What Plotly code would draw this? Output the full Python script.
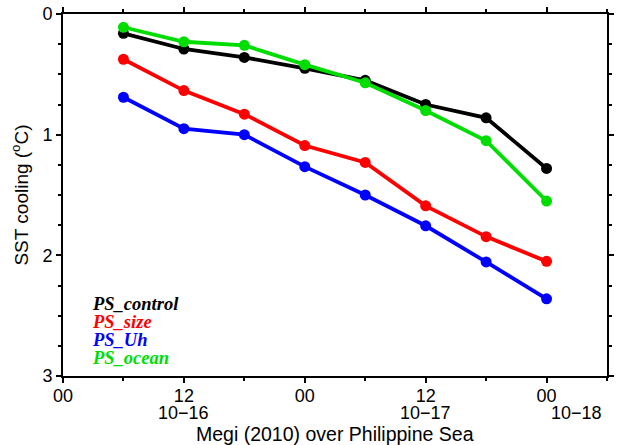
import plotly.graph_objects as go

# Forecast hour since 00 UTC 16 Oct 2010
hours = [6, 12, 18, 24, 30, 36, 42, 48]

# SST cooling (deg C) for each experiment
ps_control = [0.16, 0.29, 0.36, 0.45, 0.55, 0.75, 0.86, 1.28]
ps_size = [0.375, 0.635, 0.83, 1.09, 1.23, 1.59, 1.845, 2.05]
ps_uh = [0.69, 0.95, 1.00, 1.265, 1.50, 1.755, 2.055, 2.36]
ps_ocean = [0.11, 0.23, 0.26, 0.42, 0.57, 0.80, 1.05, 1.55]

series = [
    ("PS_control", ps_control, "#000000"),
    ("PS_size", ps_size, "#ff0000"),
    ("PS_Uh", ps_uh, "#0000ff"),
    ("PS_ocean", ps_ocean, "#00dd00"),
]

# Axis labels
hour_ticks = [0, 12, 24, 36, 48]
hour_labels = ["00", "12", "00", "12", "00"]
day_positions = [12, 36, 51]
day_labels = ["10\u221216", "10\u221217", "10\u221218"]

FONT = "Liberation Sans, Arial, Helvetica, sans-serif"

fig = go.Figure()
for name, vals, color in series:
    fig.add_trace(go.Scatter(
        x=hours, y=vals, name=name, mode="lines+markers",
        line=dict(color=color, width=3.8),
        marker=dict(color=color, size=11),
        showlegend=False,
    ))

# Text legend in the lower-left corner
for i, (name, vals, color) in enumerate(series):
    fig.add_annotation(
        x=0.05, y=0.2 - i * 0.0505, xref="paper", yref="paper",
        xanchor="left", yanchor="middle", showarrow=False,
        text=f"<b><i>{name}</i></b>",
        font=dict(family="Liberation Serif, Times New Roman, serif", size=18.5, color=color),
    )

# Second row of date labels below the hour labels
for pos, lab in zip(day_positions, day_labels):
    fig.add_annotation(
        x=pos, y=0, xref="x", yref="paper", yshift=-37,
        xanchor="center", yanchor="middle", showarrow=False,
        text=lab, font=dict(family=FONT, size=18, color="#000"),
    )

fig.add_annotation(
    x=0.5, y=0, xref="paper", yref="paper", yshift=-58,
    xanchor="center", yanchor="middle", showarrow=False,
    text="Megi (2010) over Philippine Sea",
    font=dict(family=FONT, size=19.5, color="#000"),
)

fig.update_layout(
    width=617, height=445,
    margin=dict(l=63, r=10, t=14, b=69),
    paper_bgcolor="white", plot_bgcolor="white",
    font=dict(family=FONT, size=18, color="#000"),
    xaxis=dict(
        range=[0, 54], tickvals=hour_ticks, ticktext=hour_labels, automargin=False,
        ticks="outside", ticklen=5, tickwidth=1.5, tickcolor="#000",
        ticklabelstandoff=-3,
        minor=dict(dtick=6, tick0=0, ticks="outside", ticklen=3, tickwidth=1.5, tickcolor="#000"),
        showline=True, linecolor="#000", linewidth=2, mirror="ticks",
        showgrid=False, zeroline=False, tickfont=dict(size=18),
    ),
    yaxis=dict(
        range=[3, 0], tickvals=[0, 1, 2, 3], automargin=False,
        ticks="outside", ticklen=5, tickwidth=1.5, tickcolor="#000",
        minor=dict(dtick=0.25, tick0=0, ticks="outside", ticklen=3, tickwidth=1.5, tickcolor="#000"),
        showline=True, linecolor="#000", linewidth=2, mirror="ticks",
        showgrid=False, zeroline=False, tickfont=dict(size=18),
        title=dict(text="SST cooling (<sup>o</sup>C)", font=dict(size=19), standoff=9),
    ),
)

fig.write_html("out.html")
